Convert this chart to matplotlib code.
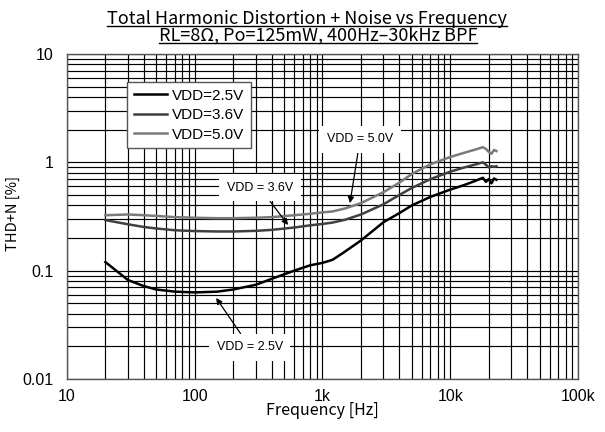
import numpy as np
import matplotlib.pyplot as plt
from matplotlib.ticker import LogLocator, FixedLocator, NullFormatter
from matplotlib.lines import Line2D

# THD+N measurement, RL = 8 ohm, Po = 125 mW
freq = [20, 30, 40, 50, 70, 100, 150, 200, 300, 400, 600, 800, 1000, 1200,
        1500, 2000, 3000, 4000, 5000, 7000, 10000, 13000, 16000, 18000,
        19000, 20000, 21000, 22000, 23000]
thd_25 = [0.120, 0.082, 0.072, 0.067, 0.064, 0.063, 0.064, 0.067, 0.074,
          0.084, 0.100, 0.112, 0.118, 0.126, 0.150, 0.190, 0.280, 0.340,
          0.400, 0.480, 0.560, 0.620, 0.680, 0.720, 0.660, 0.700, 0.640,
          0.710, 0.690]
thd_36 = [0.293, 0.268, 0.253, 0.245, 0.236, 0.232, 0.230, 0.230, 0.233,
          0.238, 0.250, 0.262, 0.270, 0.278, 0.295, 0.330, 0.410, 0.500,
          0.580, 0.700, 0.820, 0.900, 0.960, 1.000, 0.950, 0.900, 0.920,
          0.910, 0.920]
thd_50 = [0.325, 0.330, 0.325, 0.320, 0.312, 0.308, 0.305, 0.305, 0.308,
          0.312, 0.325, 0.335, 0.345, 0.352, 0.375, 0.420, 0.530, 0.650,
          0.780, 0.960, 1.120, 1.230, 1.320, 1.380, 1.330, 1.250, 1.200,
          1.300, 1.270]

x_ticks = [10, 100, 1000, 10000, 100000]
x_labels = ["10", "100", "1k", "10k", "100k"]
y_ticks = [0.01, 0.1, 1, 10]
y_labels = ["0.01", "0.1", "1", "10"]

jp = ["Noto Sans CJK JP", "DejaVu Sans"]
plt.rcParams['font.family'] = ["Liberation Sans", "DejaVu Sans"]

fig = plt.figure(figsize=(6.05, 4.32), dpi=100)
ax = fig.add_axes([0.1107, 0.1227, 0.8447, 0.7523])

ax.set_xscale('log')
ax.set_yscale('log')
ax.set_xlim(10, 100000)
ax.set_ylim(0.01, 10)

ax.plot(freq, thd_25, color='#000000', lw=1.8, label='VDD=2.5V', zorder=3)
ax.plot(freq, thd_36, color='#404040', lw=1.8, label='VDD=3.6V', zorder=3)
ax.plot(freq, thd_50, color='#7a7a7a', lw=1.8, label='VDD=5.0V', zorder=3)

ax.xaxis.set_major_locator(FixedLocator(x_ticks))
ax.set_xticklabels(x_labels, fontsize=11.5)
ax.yaxis.set_major_locator(FixedLocator(y_ticks))
ax.set_yticklabels(y_labels, fontsize=11.5)
ax.xaxis.set_minor_locator(LogLocator(base=10, subs=np.arange(2, 10)))
ax.yaxis.set_minor_locator(LogLocator(base=10, subs=np.arange(2, 10)))
ax.xaxis.set_minor_formatter(NullFormatter())
ax.yaxis.set_minor_formatter(NullFormatter())
ax.tick_params(which='both', length=0)
ax.tick_params(axis='x', pad=7)
ax.tick_params(axis='y', pad=9.5)
ax.grid(which='both', color='#000000', lw=0.85)
for s in ax.spines.values():
    s.set_color('#555555')
    s.set_linewidth(1.0)

ax.set_xlabel("Frequency [Hz]", family=jp, fontsize=11.5, labelpad=-1)
ax.set_ylabel("THD+N [%]", family=jp, fontsize=10.5)
ax.yaxis.set_label_coords(-0.092, 0.508)

leg = ax.legend(loc='upper left', bbox_to_anchor=(0.117, 0.914), fontsize=11,
                handlelength=2.2, handletextpad=0.3, labelspacing=0.35,
                fancybox=False, framealpha=1, edgecolor='#555555',
                borderpad=0.45, borderaxespad=0)
leg.get_frame().set_linewidth(1.0)

box = dict(boxstyle='square,pad=0.6', fc='white', ec='none')
arrow = dict(arrowstyle='-|>', color='black', lw=0.9, mutation_scale=9,
             shrinkA=0, shrinkB=0)
ax.annotate("VDD = 5.0V", xy=(1640, 0.42), xytext=(1970, 1.64),
            fontsize=9, ha='center', va='center', bbox=box,
            arrowprops=arrow, zorder=5)
ax.annotate("VDD = 3.6V", xy=(538, 0.264), xytext=(324, 0.58),
            fontsize=9, ha='center', va='center', bbox=box,
            arrowprops=arrow, zorder=5)
ax.annotate("VDD = 2.5V", xy=(147, 0.056), xytext=(270, 0.0197),
            fontsize=9, ha='center', va='center', bbox=box,
            arrowprops=arrow, zorder=5)

# underlined two-line title
t1 = fig.text(0.508, 0.944, "Total Harmonic Distortion + Noise vs Frequency",
              ha='center', va='baseline', fontsize=13, family=jp)
t2 = fig.text(0.526, 0.905, "RL=8Ω, Po=125mW, 400Hz\u201330kHz BPF",
              ha='center', va='baseline', fontsize=13, family=jp)
fig.canvas.draw()
r = fig.canvas.get_renderer()
for t in (t1, t2):
    bb = t.get_window_extent(r).transformed(fig.transFigure.inverted())
    y0 = t.get_position()[1] - 0.005
    fig.add_artist(Line2D([bb.x0, bb.x1], [y0, y0], color='black', lw=1.0,
                          transform=fig.transFigure))

fig.savefig("out.png", dpi=100)
